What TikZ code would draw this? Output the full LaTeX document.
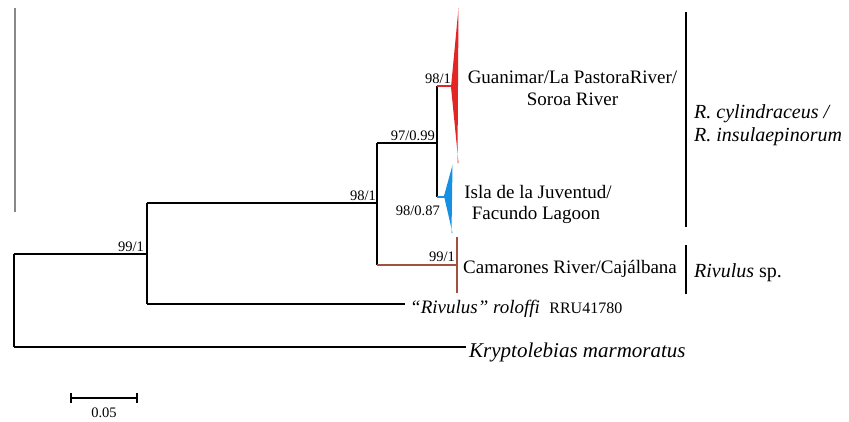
\documentclass[tikz,border=0pt]{standalone}
\usepackage{fontspec}
\setmainfont{Liberation Serif}
\definecolor{cladered}{RGB}{226,38,38}
\definecolor{cladeblue}{RGB}{22,144,226}
\definecolor{cladebrown}{RGB}{160,82,64}
\definecolor{bargray}{RGB}{136,136,136}
\begin{document}
\begin{tikzpicture}[x=1pt,y=-1pt,
  branch/.style={line width=1.4pt,black},
  support/.style={font=\fontsize{14.5}{16}\selectfont,inner sep=0pt,anchor=base east},
  taxon/.style={font=\fontsize{19}{22}\selectfont,inner sep=0pt},
  bigtaxon/.style={font=\fontsize{20}{23}\selectfont\itshape,inner sep=0pt,anchor=base west},
  cladebar/.style={line width=1.6pt,black}]
\useasboundingbox (0,0) rectangle (849,421);
% tree node coordinates
\coordinate (rb) at (14,254);
\coordinate (rk) at (14,347);
\coordinate (n1) at (147,254);
\coordinate (n1t) at (147,203);
\coordinate (n1b) at (147,304);
\coordinate (n2) at (377,203);
\coordinate (n2t) at (377,143);
\coordinate (n2b) at (377,265);
\coordinate (n3) at (437,143);
\coordinate (n3t) at (437,86);
\coordinate (n3b) at (437,197);
\coordinate (kry) at (466,347);
\coordinate (rol) at (405,304);
\coordinate (redtip) at (452,86);
\coordinate (bluetip) at (445,197);
\coordinate (browntip) at (457,265);
% gray stray line
\draw[line width=2pt,bargray] (15,8) -- (15,212);
% tree
\draw[branch] (rb) -- (rk);
\draw[branch] (rb) -- (n1);
\draw[branch] (rk) -- (kry);
\draw[branch] (n1t) -- (n1b);
\draw[branch] (n1b) -- (rol);
\draw[branch] (n1t) -- (n2);
\draw[branch] (n2t) -- (n2b);
\draw[line width=1.4pt,cladebrown] (n2b) -- (browntip);
\draw[branch] (n2t) -- (n3);
\draw[branch] (n3t) -- (n3b);
\draw[line width=1.4pt,cladered] (n3t) -- (redtip);
\draw[line width=1.4pt,cladeblue] (n3b) -- (bluetip);
% collapsed clades
\fill[cladered] (458.5,8) -- (451,87) -- (458.5,163) -- (457.5,163) -- cycle;
\fill[cladeblue] (452.5,165) -- (444,196) -- (452.5,233) -- (451.5,233) -- cycle;
\draw[line width=1.2pt,cladebrown] (457,237) -- (457,293);
% support values
\node[support] (s1) at (144,251) {99/1};
\node[support] (s2) at (376,200) {98/1};
\node[support] (s3) at (435,140) {97/0.99};
\node[support] (s4) at (451,83) {98/1};
\node[support] (s5) at (440,215) {98/0.87};
\node[support] (s6) at (455,261) {99/1};
% taxon labels
\node[taxon,anchor=base] (g1) at (572.5,83) {Guanimar/La PastoraRiver/};
\node[taxon,anchor=base] (g2) at (572.5,105) {Soroa River};
\node[taxon,anchor=base] (i1) at (538,198) {Isla de la Juventud/};
\node[taxon,anchor=base] (i2) at (536,219) {Facundo Lagoon};
\node[taxon,anchor=base west] (cam) at (463,273) {Camarones River/Cajálbana};
\node[taxon,anchor=base west] (rolt) at (410,313) {\textit{“Rivulus” roloffi}\hspace{0.5em}{\fontsize{16}{18}\selectfont RRU41780}};
\node[taxon,anchor=base west,font=\fontsize{21}{24}\selectfont\itshape] (kryt) at (469,357) {Kryptolebias marmoratus};
% clade bars
\coordinate (b1t) at (686,12);
\coordinate (b1b) at (686,227);
\coordinate (b2t) at (686,245);
\coordinate (b2b) at (686,294);
\draw[cladebar] (b1t) -- (b1b);
\draw[cladebar] (b2t) -- (b2b);
\node[bigtaxon] (c1) at (694,118) {R. cylindraceus /};
\node[bigtaxon] (c2) at (694,141) {R. insulaepinorum};
\node[bigtaxon] (c3) at (694,277) {Rivulus \upshape sp.};
% scale bar
\coordinate (sbl) at (71,398);
\coordinate (sbr) at (137,398);
\draw[line width=1.3pt] (sbl) -- (sbr);
\draw[line width=1.3pt] ([yshift=-5pt]sbl) -- ([yshift=5pt]sbl);
\draw[line width=1.3pt] ([yshift=-5pt]sbr) -- ([yshift=5pt]sbr);
\node[support,anchor=base] (sc) at (104,417) {0.05};
\end{tikzpicture}
\end{document}
